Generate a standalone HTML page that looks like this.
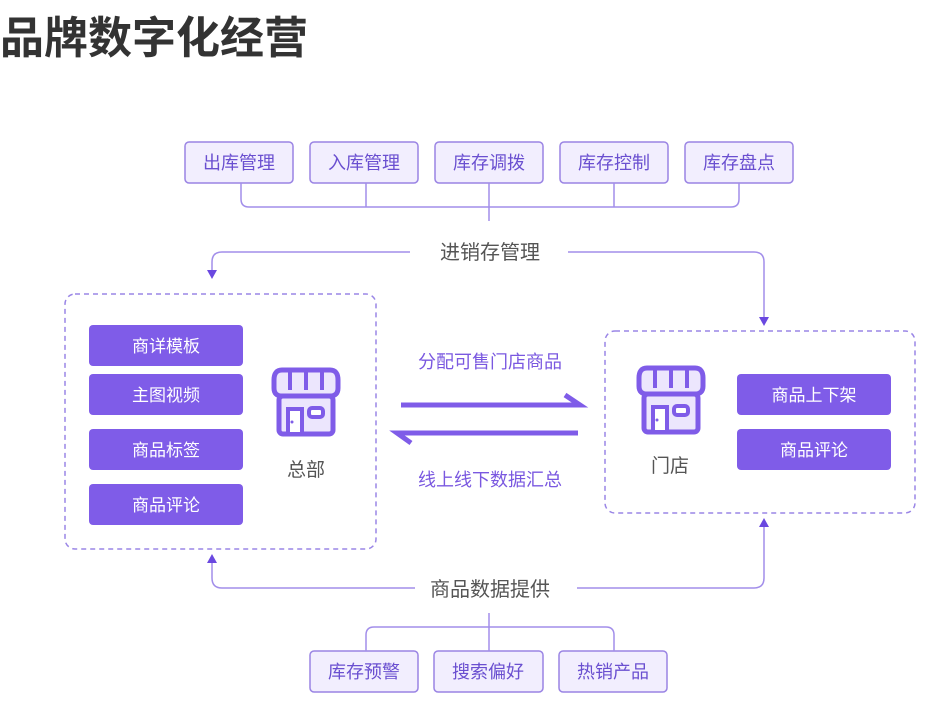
<!DOCTYPE html>
<html><head><meta charset="utf-8"><style>
body{margin:0;background:#fff;}
svg{display:block;font-family:"Liberation Sans","Noto Sans CJK SC",sans-serif;}
</style></head><body>
<svg width="930" height="706" viewBox="0 0 930 706" xmlns="http://www.w3.org/2000/svg">
<defs>
<g id="store">
<path d="M4 14 Q4 4 12 4 L60 4 Q68 4 68 14 L68 22 Q68 30 60 30 L12 30 Q4 30 4 22 Z" fill="#ece6fd" stroke="#7f5ce8" stroke-width="5"/>
<path d="M20 4 V24 M36 4 V24 M52 4 V24" stroke="#7f5ce8" stroke-width="4"/>
<rect x="9" y="30" width="54" height="38" rx="4" fill="#ece6fd" stroke="#7f5ce8" stroke-width="5"/>
<rect x="18" y="43" width="14" height="25" fill="#fff" stroke="#7f5ce8" stroke-width="4"/>
<rect x="39" y="42" width="14" height="9" rx="3" fill="#fff" stroke="#7f5ce8" stroke-width="4"/>
<circle cx="22" cy="56" r="1.5" fill="#7f5ce8"/>
</g>
</defs>
<text x="0" y="53" font-size="44" font-weight="bold" fill="#333">品牌数字化经营</text>

<g fill="#f2eefe" stroke="#9a84e4" stroke-width="1.5">
<rect x="185" y="142" width="108" height="41" rx="4"/>
<rect x="310" y="142" width="108" height="41" rx="4"/>
<rect x="435" y="142" width="108" height="41" rx="4"/>
<rect x="560" y="142" width="108" height="41" rx="4"/>
<rect x="685" y="142" width="108" height="41" rx="4"/>
<rect x="310" y="651" width="108" height="41" rx="4"/>
<rect x="434" y="651" width="109" height="41" rx="4"/>
<rect x="559" y="651" width="108" height="41" rx="4"/>
</g>
<g font-size="18" fill="#6a4fd0" text-anchor="middle">
<text x="239" y="169">出库管理</text>
<text x="364" y="169">入库管理</text>
<text x="489" y="169">库存调拨</text>
<text x="614" y="169">库存控制</text>
<text x="739" y="169">库存盘点</text>
<text x="364" y="678">库存预警</text>
<text x="488" y="678">搜索偏好</text>
<text x="613" y="678">热销产品</text>
</g>
<g fill="none" stroke="#a28eea" stroke-width="1.5">
<path d="M241 183 V199 Q241 207 249 207 H731 Q739 207 739 199 V183"/>
<path d="M366 183 V207 M614 183 V207 M489 183 V221"/>
<path d="M366 651 V635 Q366 627 374 627 H606 Q614 627 614 635 V651"/>
<path d="M489 613 V651"/>
<path d="M410 252 H222 Q212 252 212 262 V270"/>
<path d="M568 252 H754 Q764 252 764 262 V318"/>
<path d="M415 588 H222 Q212 588 212 578 V562"/>
<path d="M577 588 H754 Q764 588 764 578 V526"/>
</g>
<g fill="#6a48e0">
<path d="M207 270 L217 270 L212 279 Z"/>
<path d="M759 317 L769 317 L764 326 Z"/>
<path d="M207 563 L217 563 L212 554 Z"/>
<path d="M759 527 L769 527 L764 518 Z"/>
</g>
<g font-size="20" fill="#555" text-anchor="middle">
<text x="490" y="259">进销存管理</text>
<text x="490" y="596">商品数据提供</text>
<text x="306" y="476" font-size="19">总部</text>
<text x="670" y="472" font-size="19">门店</text>
</g>

<rect x="65" y="294" width="311" height="255" rx="10" fill="none" stroke="#9a86e6" stroke-width="1.5" stroke-dasharray="5 4"/>
<rect x="605" y="331" width="310" height="182" rx="10" fill="none" stroke="#9a86e6" stroke-width="1.5" stroke-dasharray="5 4"/>

<g fill="#7f5ce8">
<rect x="89" y="325" width="154" height="41" rx="4"/>
<rect x="89" y="374" width="154" height="41" rx="4"/>
<rect x="89" y="429" width="154" height="41" rx="4"/>
<rect x="89" y="484" width="154" height="41" rx="4"/>
<rect x="737" y="374" width="154" height="41" rx="4"/>
<rect x="737" y="429" width="154" height="41" rx="4"/>
</g>
<g font-size="17" fill="#fff" text-anchor="middle">
<text x="166" y="352">商详模板</text>
<text x="166" y="401">主图视频</text>
<text x="166" y="456">商品标签</text>
<text x="166" y="511">商品评论</text>
<text x="814" y="401">商品上下架</text>
<text x="814" y="456">商品评论</text>
</g>
<use href="#store" x="270" y="366"/>
<use href="#store" x="635" y="364" />

<g stroke="#7f5ce8" stroke-width="5" fill="none" stroke-linecap="butt">
<path d="M401 405 H580 L565 395"/>
<path d="M578 433 H397 L411 443"/>
</g>
<g font-size="18" fill="#7a58e0" text-anchor="middle">
<text x="490" y="368">分配可售门店商品</text>
<text x="490" y="486">线上线下数据汇总</text>
</g>
</svg>
</body></html>
